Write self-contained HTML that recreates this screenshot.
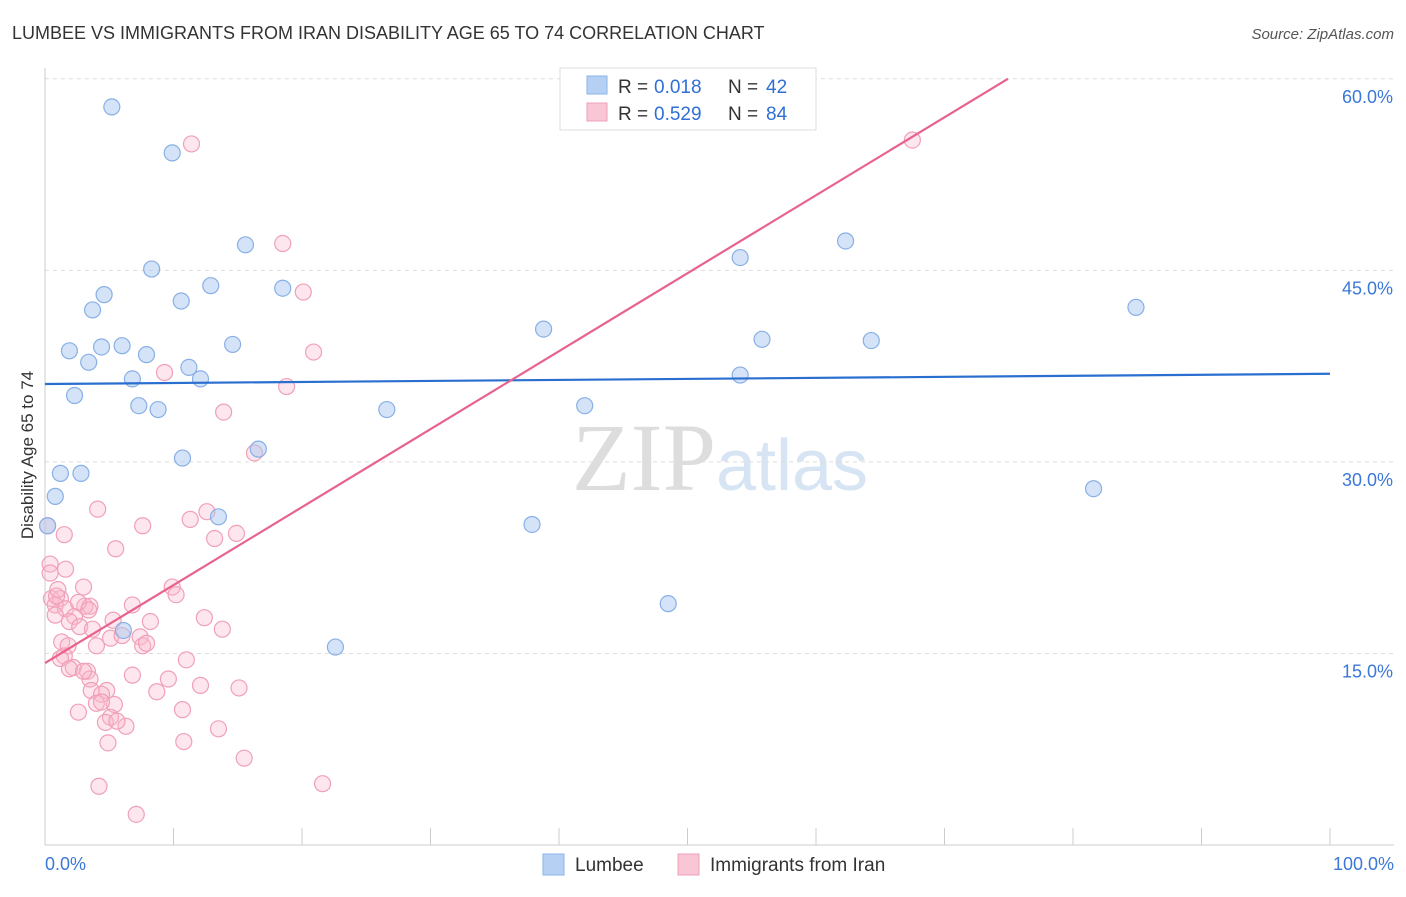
<!DOCTYPE html>
<html><head><meta charset="utf-8">
<style>
body{margin:0;background:#fff;font-family:"Liberation Sans",sans-serif;}
svg text{font-family:"Liberation Sans",sans-serif;}
</style></head>
<body>
<svg id="chart" width="1406" height="892" xmlns="http://www.w3.org/2000/svg">
<text x="12" y="39" font-size="18" fill="#333">LUMBEE VS IMMIGRANTS FROM IRAN DISABILITY AGE 65 TO 74 CORRELATION CHART</text>
<text x="1394" y="39" font-size="15" fill="#555" font-style="italic" text-anchor="end">Source: ZipAtlas.com</text>
<text x="33" y="455" font-size="17" fill="#333" text-anchor="middle" transform="rotate(-90 33 455)">Disability Age 65 to 74</text>
<text x="720" y="490" font-size="96" fill="#e4e4e4" text-anchor="middle" style="font-family:'Liberation Serif',serif"><tspan fill="#ddd">ZIP</tspan><tspan fill="#d6e4f4" style="font-family:'Liberation Sans',sans-serif" font-size="72">atlas</tspan></text>
<g id="grid"></g>
<g id="axes"></g>
<g id="pts"></g>
<g id="lines"></g>
<g>
<rect x="560" y="68" width="256" height="62" fill="#fff" stroke="#ddd"/>
<rect x="587" y="76" width="20" height="18" fill="#b5d0f3" stroke="#8ab4e8"/>
<text x="618" y="93" font-size="19" fill="#333">R =</text>
<text x="654" y="93" font-size="19" fill="#2f6fd6">0.018</text>
<text x="728" y="93" font-size="19" fill="#333">N =</text>
<text x="766" y="93" font-size="19" fill="#2f6fd6">42</text>
<rect x="587" y="103" width="20" height="18" fill="#f9c6d6" stroke="#f0a0b8"/>
<text x="618" y="120" font-size="19" fill="#333">R =</text>
<text x="654" y="120" font-size="19" fill="#2f6fd6">0.529</text>
<text x="728" y="120" font-size="19" fill="#333">N =</text>
<text x="766" y="120" font-size="19" fill="#2f6fd6">84</text>
</g>
<g>
<rect x="543" y="854" width="21" height="21" fill="#b5d0f3" stroke="#8ab4e8"/>
<text x="575" y="871" font-size="19" fill="#333">Lumbee</text>
<rect x="678" y="854" width="21" height="21" fill="#f9c6d6" stroke="#f0a0b8"/>
<text x="710" y="871" font-size="19" fill="#333">Immigrants from Iran</text>
</g>
</svg>
<script>
const yTicks=[15,30,45,60];
const yTickLabels=["15.0%","30.0%","45.0%","60.0%"];
const xEndLabels=["0.0%","100.0%"];
const blueX=[5.2,9.9,15.6,8.3,4.6,12.9,10.6,3.7,18.5,1.9,4.4,6.0,3.4,7.9,14.6,11.2,6.8,12.1,2.3,7.3,8.8,10.7,16.6,1.2,2.8,0.8,13.5,0.2,6.1,22.6,26.6,38.8,42.0,37.9,48.5,54.1,55.8,54.1,62.3,64.3,84.9,81.6];
const blueY=[57.8,54.2,47.0,45.1,43.1,43.8,42.6,41.9,43.6,38.7,39.0,39.1,37.8,38.4,39.2,37.4,36.5,36.5,35.2,34.4,34.1,30.3,31.0,29.1,29.1,27.3,25.7,25.0,16.8,15.5,34.1,40.4,34.4,25.1,18.9,46.0,39.6,36.8,47.3,39.5,42.1,27.9];
const pinkX=[11.4,67.5,18.5,20.1,20.9,9.3,18.8,13.9,16.3,4.1,11.3,12.6,7.6,14.9,13.2,1.5,5.5,0.2,0.4,0.4,3.0,9.9,10.2,0.5,1.2,0.8,3.1,3.5,6.8,1.6,0.8,2.3,1.9,5.3,8.2,2.7,3.7,7.4,5.1,7.6,1.3,1.8,4.0,1.5,1.2,11.0,2.2,3.3,1.9,6.8,9.6,3.5,12.1,15.1,3.6,8.7,4.8,4.4,5.4,4.0,4.4,2.6,10.7,5.1,4.7,6.3,13.5,4.9,10.8,15.5,4.2,21.6,7.1,3.0,0.9,2.6,3.4,6.0,7.9,1.0,1.6,12.4,13.8,5.6];
const pinkY=[54.9,55.2,47.1,43.3,38.6,37.0,35.9,33.9,30.7,26.3,25.5,26.1,25.0,24.4,24.0,24.3,23.2,25.0,22.0,21.3,20.2,20.2,19.6,19.3,19.3,18.8,18.7,18.7,18.8,18.5,18.0,17.9,17.5,17.6,17.5,17.1,16.9,16.3,16.2,15.6,15.9,15.6,15.6,14.8,14.6,14.5,13.9,13.6,13.8,13.3,13.0,13.0,12.5,12.3,12.1,12.0,12.1,11.8,11.0,11.1,11.2,10.4,10.6,10.0,9.6,9.3,9.1,8.0,8.1,6.8,4.6,4.8,2.4,13.6,19.5,19.0,18.4,16.4,15.8,20.0,21.6,17.8,16.9,9.7];
const blueLine=[36.1,36.9];
const pinkLine=[14.25,75.3];
const NS="http://www.w3.org/2000/svg";
const X0=45,X1=1330,Y0=845,YPX=12.77;
function sx(v){return X0+(X1-X0)*v/100;}
function sy(v){return Y0-v*YPX;}
function mk(t,a,p){const e=document.createElementNS(NS,t);for(const k in a)e.setAttribute(k,a[k]);p.appendChild(e);return e;}
const grid=document.getElementById('grid'),axes=document.getElementById('axes');
yTicks.forEach((t,i)=>{
 const l=mk('line',{x1:X0,x2:1394,y1:sy(t),y2:sy(t),stroke:'#ddd','stroke-dasharray':'4 4'},grid);
 
 
 const tx=mk('text',{x:1393,y:sy(t)+24,'font-size':18,fill:'#3b78d8','text-anchor':'end'},axes);
 tx.textContent=yTickLabels[i];
 
 
});
const ax=mk('line',{x1:X0,x2:X0,y1:68,y2:Y0,stroke:'#ccc'},axes);


const bx=mk('line',{x1:X0,x2:1394,y1:Y0,y2:Y0,stroke:'#ccc'},axes);


for(let i=0;i<=10;i++){
 const t=mk('line',{x1:sx(i*10),x2:sx(i*10),y1:828,y2:Y0,stroke:'#ccc'},axes);
 
 
}
[[0,'start',45],[100,'end',1394]].forEach((d,i)=>{
 const t=mk('text',{x:d[2],y:870,'font-size':18,fill:'#3b78d8','text-anchor':d[1]},axes);
 t.textContent=xEndLabels[i];
 
 
});
const pts=document.getElementById('pts');
pinkX.forEach((x,i)=>{
 const c=mk('circle',{cx:sx(x),cy:sy(pinkY[i]),r:8,fill:'rgba(248,182,202,0.35)',stroke:'#f0a0b8','stroke-width':1.2},pts);
 
 
});
blueX.forEach((x,i)=>{
 const c=mk('circle',{cx:sx(x),cy:sy(blueY[i]),r:8,fill:'rgba(170,200,240,0.5)',stroke:'#88b0e6','stroke-width':1.2},pts);
 
 
});
const lines=document.getElementById('lines');
const bl=mk('line',{x1:sx(0),y1:sy(blueLine[0]),x2:sx(100),y2:sy(blueLine[1]),stroke:'#2a6fd0','stroke-width':2.2},lines);


const slope=(pinkLine[1]-pinkLine[0])/100;
const xe=(60-pinkLine[0])/slope;
const pl=mk('line',{x1:sx(0),y1:sy(pinkLine[0]),x2:sx(xe),y2:sy(60),stroke:'#e8628e','stroke-width':2.2},lines);


</script>
</body></html>
